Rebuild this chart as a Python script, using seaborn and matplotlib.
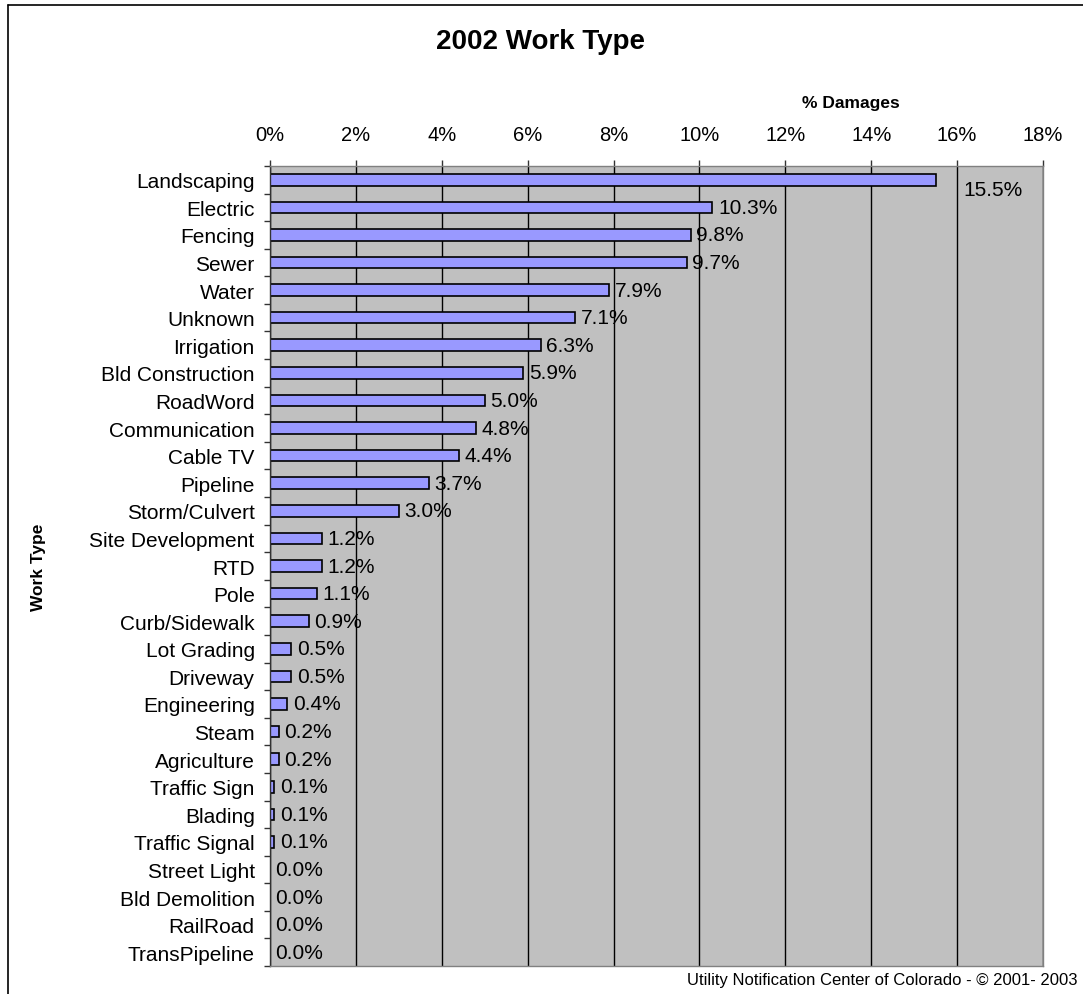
import matplotlib
matplotlib.use("Agg")
import matplotlib.pyplot as plt
from matplotlib.lines import Line2D
from matplotlib.ticker import FixedLocator
import seaborn as sns
import pandas as pd

# data
work_types = ["Landscaping", "Electric", "Fencing", "Sewer", "Water", "Unknown",
              "Irrigation", "Bld Construction", "RoadWord", "Communication",
              "Cable TV", "Pipeline", "Storm/Culvert", "Site Development", "RTD",
              "Pole", "Curb/Sidewalk", "Lot Grading", "Driveway", "Engineering",
              "Steam", "Agriculture", "Traffic Sign", "Blading", "Traffic Signal",
              "Street Light", "Bld Demolition", "RailRoad", "TransPipeline"]
pct_damages = [15.5, 10.3, 9.8, 9.7, 7.9, 7.1, 6.3, 5.9, 5.0, 4.8, 4.4, 3.7, 3.0,
               1.2, 1.2, 1.1, 0.9, 0.5, 0.5, 0.4, 0.2, 0.2, 0.1, 0.1, 0.1,
               0.0, 0.0, 0.0, 0.0]
x_ticks = [0, 2, 4, 6, 8, 10, 12, 14, 16, 18]

df = pd.DataFrame({"Work Type": work_types, "Damages": pct_damages})

sns.set_style("white")
plt.rcParams['font.family'] = ['Liberation Sans', 'DejaVu Sans']
plt.rcParams['text.color'] = 'black'
plt.rcParams['axes.labelcolor'] = 'black'
plt.rcParams['xtick.labelcolor'] = 'black'
plt.rcParams['ytick.labelcolor'] = 'black'

fig = plt.figure(figsize=(10.83, 9.95), dpi=100)
ax = fig.add_axes([0.2493, 0.0281, 0.7138, 0.8041])
ax.set_facecolor("#C0C0C0")

sns.barplot(data=df, x="Damages", y="Work Type", orient="h", color="#9999FF",
            saturation=1, edgecolor="black", linewidth=1.2, width=0.42, ax=ax)

ax.set_xlim(0, 18)
ax.set_ylim(len(work_types) - 0.5, -0.5)
ax.xaxis.tick_top()
ax.xaxis.set_label_position("top")
ax.set_xticks(x_ticks)
ax.set_xticklabels([f"{t}%" for t in x_ticks], fontsize=14.5)
ax.tick_params(axis="x", length=4.5, width=1, color="#333333", pad=11)
ax.grid(axis="x", color="black", linewidth=1)
ax.set_axisbelow(True)

# tick marks between categories, no marks at the labels
ax.yaxis.set_minor_locator(FixedLocator([i + 0.5 for i in range(-1, len(work_types))]))
ax.tick_params(axis="y", which="major", length=0, labelsize=15, pad=11)
ax.tick_params(axis="y", which="minor", length=4.5, width=1, color="#333333", left=True)

for s in ax.spines.values():
    s.set_color("#808080")
    s.set_linewidth(1)
ax.spines["left"].set_color("#333333")

ax.set_xlabel("% Damages", fontsize=12.5, fontweight="bold")
ax.xaxis.set_label_coords(0.752, 1.074)
ax.set_ylabel("Work Type", fontsize=12.5, fontweight="bold")
ax.yaxis.set_label_coords(-0.29, 0.5)

for i, v in enumerate(pct_damages):
    off = 20 if i == 0 else 4
    ax.annotate(f"{v:.1f}%", (v, i), xytext=(off, 0), textcoords="offset points",
                va="top" if i == 0 else "center", ha="left", fontsize=15)

fig.text(0.499, 0.958, "2002 Work Type", ha="center", va="center",
         fontsize=20, fontweight="bold")

fig.text(0.634, 0.0145, "Utility Notification Center of Colorado - \u00a9 2001- 2003",
         ha="left", va="center", fontsize=12,
         family=["Liberation Sans Narrow", "Liberation Sans", "DejaVu Sans"],
         bbox=dict(facecolor="white", edgecolor="none", pad=3))

# outer frame (left and top edges visible)
fig.add_artist(Line2D([0.0074, 0.0074], [0, 0.994], color="black", lw=1.2,
                      transform=fig.transFigure))
fig.add_artist(Line2D([0.0074, 1], [0.994, 0.994], color="black", lw=1.2,
                      transform=fig.transFigure))

fig.savefig("out.png", dpi=100)
